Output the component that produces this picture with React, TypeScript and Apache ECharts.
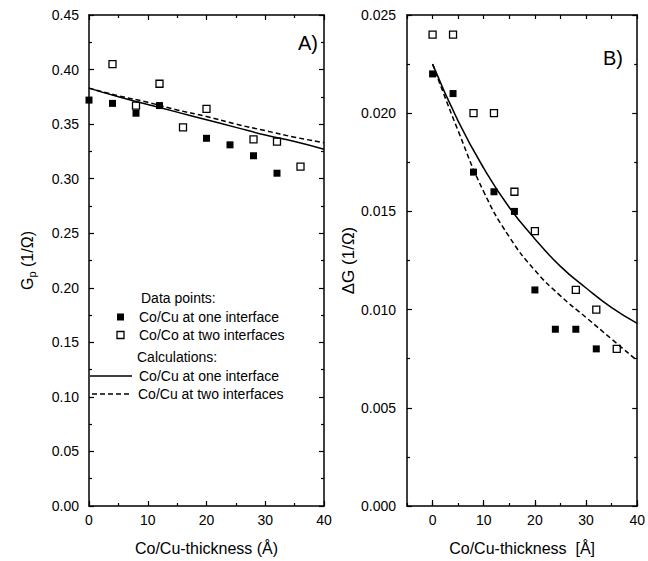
import React, { useEffect, useRef } from "react";
import * as echarts from "echarts";

const FONT = "Liberation Sans, Arial, sans-serif";

// Panel A data (Gp vs thickness)
const aFilledX = [0, 4, 8, 12, 20, 24, 28, 32];
const aFilledY = [0.372, 0.369, 0.36, 0.367, 0.337, 0.331, 0.321, 0.305];
const aOpenX = [4, 8, 12, 16, 20, 28, 32, 36];
const aOpenY = [0.405, 0.367, 0.387, 0.347, 0.364, 0.336, 0.334, 0.311];
const calcX = [0, 5, 10, 15, 20, 25, 30, 35, 40];
const aSolid = [0.383, 0.375, 0.368, 0.361, 0.354, 0.347, 0.34, 0.334, 0.327];
const aDashed = [0.383, 0.376, 0.37, 0.363, 0.357, 0.35, 0.344, 0.338, 0.333];

// Panel B data (ΔG vs thickness)
const bFilledX = [0, 4, 8, 12, 16, 20, 24, 28, 32];
const bFilledY = [0.022, 0.021, 0.017, 0.016, 0.015, 0.011, 0.009, 0.009, 0.008];
const bOpenX = [0, 4, 8, 12, 16, 20, 28, 32, 36];
const bOpenY = [0.024, 0.024, 0.02, 0.02, 0.016, 0.014, 0.011, 0.01, 0.008];
const bSolid = [0.0225, 0.0196, 0.0172, 0.0152, 0.0136, 0.0122, 0.0111, 0.0101, 0.0093];
const bDashed = [0.0225, 0.0191, 0.016, 0.0137, 0.012, 0.0107, 0.0096, 0.0085, 0.0074];

const bLabelTicks = [0, 10, 20, 30, 40];

const zip = (xs: number[], ys: number[]) => xs.map((x, i) => [x, ys[i]]);

const lineStyle = { color: "#000", width: 1.5 };
const tickStyle = { color: "#000", width: 1.2 };
const labelStyle = { color: "#000", fontSize: 14, fontFamily: FONT };
const nameStyle = { color: "#000", fontSize: 16, fontFamily: FONT };

function baseAxis(extra: any) {
  return {
    type: "value",
    axisLine: { show: true, onZero: false, lineStyle },
    axisTick: { show: true, inside: true, length: 5, lineStyle: tickStyle },
    minorTick: { show: true, splitNumber: 2, length: 3, lineStyle: tickStyle },
    splitLine: { show: false },
    axisLabel: { ...labelStyle },
    ...extra,
  };
}

const filledStyle = { color: "#000", opacity: 1 };
const openStyle = { color: "#fff", borderColor: "#000", borderWidth: 1.3, opacity: 1 };

export default function App() {
  const ref = useRef<HTMLDivElement>(null);
  useEffect(() => {
    const chart = echarts.init(ref.current!, null, { renderer: "svg" });
    const option: any = {
      animation: false,
      backgroundColor: "#fff",
      grid: [
        { left: 89, top: 15, width: 235, height: 492 },
        { left: 407, top: 15, width: 233, height: 492 },
      ],
      xAxis: [
        baseAxis({
          gridIndex: 0,
          position: "bottom",
          min: 0,
          max: 40,
          interval: 10,
          name: "Co/Cu-thickness (Å)",
          nameLocation: "middle",
          nameGap: 34,
          nameTextStyle: nameStyle,
          axisLabel: { ...labelStyle, margin: 7 },
        }),
        baseAxis({
          gridIndex: 0,
          position: "top",
          min: 0,
          max: 40,
          interval: 10,
          axisLabel: { show: false },
        }),
        baseAxis({
          gridIndex: 1,
          position: "bottom",
          min: -5,
          max: 40,
          interval: 5,
          name: "Co/Cu-thickness  [Å]",
          nameLocation: "middle",
          nameGap: 34,
          nameTextStyle: nameStyle,
          minorTick: { show: false },
          axisTick: { show: true, inside: true, length: 6, lineStyle: tickStyle, customValues: bLabelTicks },
          axisLabel: { ...labelStyle, margin: 7, customValues: bLabelTicks, formatter: (v: number) => String(v) },
        }),
        baseAxis({
          gridIndex: 1,
          position: "bottom",
          min: -5,
          max: 40,
          interval: 5,
          axisLine: { show: false },
          minorTick: { show: false },
          axisTick: { show: true, inside: true, length: 3, lineStyle: tickStyle },
          axisLabel: { show: false },
        }),
        baseAxis({
          gridIndex: 1,
          position: "top",
          min: -5,
          max: 40,
          interval: 5,
          minorTick: { show: false },
          axisTick: { show: true, inside: true, length: 4, lineStyle: tickStyle },
          axisLabel: { show: false },
        }),
      ],
      yAxis: [
        baseAxis({
          gridIndex: 0,
          position: "left",
          min: 0,
          max: 0.45,
          interval: 0.05,
          name: "{a|G}{s|p}{a| (1/Ω)}",
          nameLocation: "middle",
          nameGap: 52,
          nameTextStyle: {
            ...nameStyle,
            rich: {
              a: { fontSize: 16, fontFamily: FONT, color: "#000" },
              s: { fontSize: 11, fontFamily: FONT, color: "#000", padding: [9, 0, 0, 0] },
            },
          },
          axisLabel: { ...labelStyle, margin: 10, formatter: (v: number) => v.toFixed(2) },
        }),
        baseAxis({
          gridIndex: 0,
          position: "right",
          min: 0,
          max: 0.45,
          interval: 0.05,
          axisLabel: { show: false },
        }),
        baseAxis({
          gridIndex: 1,
          position: "left",
          min: 0,
          max: 0.025,
          interval: 0.005,
          name: "ΔG (1/Ω)",
          nameLocation: "middle",
          nameGap: 50,
          nameTextStyle: { ...nameStyle, fontSize: 17 },
          axisLabel: { ...labelStyle, margin: 11, formatter: (v: number) => v.toFixed(3) },
        }),
        baseAxis({
          gridIndex: 1,
          position: "right",
          min: 0,
          max: 0.025,
          interval: 0.005,
          axisLabel: { show: false },
        }),
      ],
      series: [
        {
          type: "line",
          xAxisIndex: 0,
          yAxisIndex: 0,
          data: zip(calcX, aSolid),
          smooth: true,
          symbol: "none",
          lineStyle: { color: "#000", width: 1.5 },
        },
        {
          type: "line",
          xAxisIndex: 0,
          yAxisIndex: 0,
          data: zip(calcX, aDashed),
          smooth: true,
          symbol: "none",
          lineStyle: { color: "#000", width: 1.5, type: [5, 3] },
        },
        {
          type: "scatter",
          xAxisIndex: 0,
          yAxisIndex: 0,
          data: zip(aFilledX, aFilledY),
          symbol: "rect",
          symbolSize: 7,
          clip: false,
          itemStyle: filledStyle,
        },
        {
          type: "scatter",
          xAxisIndex: 0,
          yAxisIndex: 0,
          data: zip(aOpenX, aOpenY),
          symbol: "rect",
          symbolSize: 7,
          clip: false,
          itemStyle: openStyle,
        },
        {
          type: "line",
          xAxisIndex: 2,
          yAxisIndex: 2,
          data: zip(calcX, bSolid),
          smooth: true,
          symbol: "none",
          lineStyle: { color: "#000", width: 1.5 },
        },
        {
          type: "line",
          xAxisIndex: 2,
          yAxisIndex: 2,
          data: zip(calcX, bDashed),
          smooth: true,
          symbol: "none",
          lineStyle: { color: "#000", width: 1.5, type: [5, 3] },
        },
        {
          type: "scatter",
          xAxisIndex: 2,
          yAxisIndex: 2,
          data: zip(bFilledX, bFilledY),
          symbol: "rect",
          symbolSize: 7,
          clip: false,
          itemStyle: filledStyle,
        },
        {
          type: "scatter",
          xAxisIndex: 2,
          yAxisIndex: 2,
          data: zip(bOpenX, bOpenY),
          symbol: "rect",
          symbolSize: 7,
          clip: false,
          itemStyle: openStyle,
        },
      ],
      graphic: [
        { type: "text", left: 298, top: 33, style: { text: "A)", fontSize: 20, fontFamily: FONT, fill: "#000" } },
        { type: "text", left: 603, top: 48, style: { text: "B)", fontSize: 20, fontFamily: FONT, fill: "#000" } },
        { type: "text", x: 141, y: 298, style: { text: "Data points:", fontSize: 14, fontFamily: FONT, fill: "#000", verticalAlign: "middle" } },
        { type: "rect", shape: { x: 117, y: 313.5, width: 7, height: 7 }, style: { fill: "#000" } },
        { type: "text", x: 139, y: 317, style: { text: "Co/Cu at one interface", fontSize: 14, fontFamily: FONT, fill: "#000", verticalAlign: "middle" } },
        { type: "rect", shape: { x: 117, y: 331.5, width: 7, height: 7 }, style: { fill: "#fff", stroke: "#000", lineWidth: 1.3 } },
        { type: "text", x: 139, y: 335, style: { text: "Co/Co at two interfaces", fontSize: 14, fontFamily: FONT, fill: "#000", verticalAlign: "middle" } },
        { type: "text", x: 137, y: 357, style: { text: "Calculations:", fontSize: 14, fontFamily: FONT, fill: "#000", verticalAlign: "middle" } },
        { type: "line", shape: { x1: 90, y1: 376, x2: 132, y2: 376 }, style: { stroke: "#000", lineWidth: 1.5 } },
        { type: "text", x: 139, y: 376, style: { text: "Co/Cu at one interface", fontSize: 14, fontFamily: FONT, fill: "#000", verticalAlign: "middle" } },
        { type: "line", shape: { x1: 92, y1: 394, x2: 132, y2: 394 }, style: { stroke: "#000", lineWidth: 1.5, lineDash: [5, 3] } },
        { type: "text", x: 138, y: 394, style: { text: "Co/Cu at two interfaces", fontSize: 14, fontFamily: FONT, fill: "#000", verticalAlign: "middle" } },
      ],
    };
    chart.setOption(option);
    return () => chart.dispose();
  }, []);
  return (
    <div
      ref={ref}
      style={{ position: "absolute", left: 0, top: 0, width: 648, height: 561, background: "#fff" }}
    />
  );
}
